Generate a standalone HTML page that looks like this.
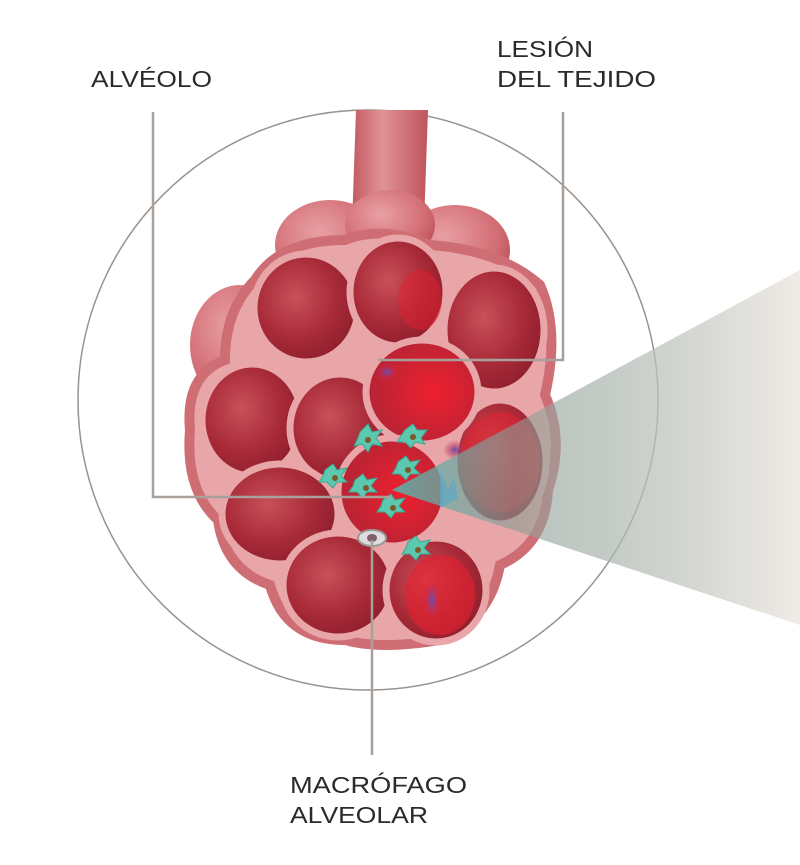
<!DOCTYPE html>
<html><head><meta charset="utf-8"><style>
html,body{margin:0;padding:0;background:#fff;}
svg{display:block;}
text{font-family:"Liberation Sans",sans-serif;font-size:23px;fill:#2a2a2a;}
</style></head><body>
<svg width="800" height="865" viewBox="0 0 800 865" xmlns="http://www.w3.org/2000/svg">
<defs>
<radialGradient id="cell" cx="0.4" cy="0.4" r="0.65">
<stop offset="0" stop-color="#c9505a"/><stop offset="0.6" stop-color="#a82a38"/><stop offset="1" stop-color="#8e1e2c"/>
</radialGradient>
<radialGradient id="lump" cx="0.4" cy="0.35" r="0.7">
<stop offset="0" stop-color="#e8a0a4"/><stop offset="0.7" stop-color="#d26d74"/><stop offset="1" stop-color="#b9505a"/>
</radialGradient>
<radialGradient id="red" cx="0.6" cy="0.5" r="0.6">
<stop offset="0" stop-color="#ee2030"/><stop offset="1" stop-color="#b32434"/>
</radialGradient>
<radialGradient id="blue" cx="0.5" cy="0.5" r="0.5">
<stop offset="0" stop-color="#6a4fb0"/><stop offset="1" stop-color="#e82030" stop-opacity="0"/>
</radialGradient>
<linearGradient id="beam" x1="0" y1="0" x2="1" y2="0">
<stop offset="0" stop-color="#4fb8b0" stop-opacity="0.85"/><stop offset="0.3" stop-color="#8a9c94" stop-opacity="0.6"/><stop offset="1" stop-color="#efe9e4" stop-opacity="0.9"/>
</linearGradient>
<linearGradient id="stem" x1="0" y1="0" x2="1" y2="0">
<stop offset="0" stop-color="#c45a62"/><stop offset="0.4" stop-color="#e09298"/><stop offset="1" stop-color="#c0545c"/>
</linearGradient>
</defs>
<circle cx="368" cy="400" r="290" fill="none" stroke="#9a928c" stroke-width="1.5"/>
<path d="M356 110 L428 110 L424 225 L352 225 Z" fill="url(#stem)"/>
<ellipse cx="330" cy="245" rx="55" ry="45" fill="url(#lump)"/>
<ellipse cx="455" cy="250" rx="55" ry="45" fill="url(#lump)"/>
<ellipse cx="390" cy="225" rx="45" ry="35" fill="url(#lump)"/>
<ellipse cx="240" cy="345" rx="50" ry="60" fill="url(#lump)"/>
<path d="M255 280 Q280 240 345 240 Q380 225 430 245 Q500 250 540 285 Q560 330 545 395 Q565 440 548 490 Q545 545 500 565 Q490 620 440 640 Q380 650 345 640 Q285 640 270 585 Q225 570 218 520 Q185 490 190 430 Q185 375 225 360 Q225 310 255 280 Z" fill="#e8a6a8" stroke="#cf6d74" stroke-width="10"/>
<g fill="url(#cell)" stroke="#e8a6a8" stroke-width="7">
<ellipse cx="306" cy="308" rx="52" ry="54"/>
<ellipse cx="398" cy="292" rx="48" ry="54"/>
<ellipse cx="494" cy="330" rx="50" ry="62"/>
<ellipse cx="252" cy="420" rx="50" ry="56"/>
<ellipse cx="340" cy="428" rx="50" ry="54"/>
<ellipse cx="500" cy="462" rx="46" ry="62"/>
<ellipse cx="280" cy="514" rx="58" ry="50"/>
<ellipse cx="338" cy="585" rx="55" ry="52"/>
<ellipse cx="436" cy="590" rx="50" ry="52"/>
</g>
<ellipse cx="422" cy="392" rx="56" ry="52" fill="url(#red)" stroke="#e8a6a8" stroke-width="7"/>
<ellipse cx="392" cy="492" rx="54" ry="54" fill="url(#red)" stroke="#e8a6a8" stroke-width="7"/>
<ellipse cx="500" cy="462" rx="40" ry="50" fill="#e8202e" opacity="0.5"/>
<ellipse cx="440" cy="595" rx="35" ry="40" fill="#e8202e" opacity="0.6"/>
<ellipse cx="432" cy="600" rx="9" ry="22" fill="url(#blue)"/>
<ellipse cx="387" cy="372" rx="12" ry="9" fill="url(#blue)"/>
<ellipse cx="455" cy="450" rx="12" ry="10" fill="url(#blue)"/>
<ellipse cx="420" cy="300" rx="22" ry="30" fill="#e8202e" opacity="0.45"/>
<path d="M392 490 L800 270 L800 625 Z" fill="url(#beam)"/>
<g fill="#5cc8b0" stroke="#3aa890" stroke-width="1">
<path d="M360 432 l8 -8 l4 8 l10 -2 l-6 8 l6 8 l-10 -2 l-4 8 l-6 -8 l-8 2 l4 -8 z"/>
<path d="M405 430 l8 -6 l4 6 l10 0 l-6 8 l4 6 l-10 -2 l-4 6 l-6 -6 l-8 0 l4 -6 z"/>
<path d="M325 470 l8 -6 l4 6 l10 -2 l-6 8 l6 6 l-10 0 l-4 6 l-6 -6 l-8 0 l4 -6 z"/>
<path d="M355 480 l8 -6 l4 6 l10 -2 l-6 8 l6 6 l-10 0 l-4 6 l-6 -6 l-8 0 l4 -6 z"/>
<path d="M398 462 l8 -6 l4 6 l10 -2 l-6 8 l6 6 l-10 0 l-4 6 l-6 -6 l-8 0 l4 -6 z"/>
<path d="M383 500 l8 -6 l4 6 l10 -2 l-6 8 l6 6 l-10 0 l-4 6 l-6 -6 l-8 0 l4 -6 z"/>
<path d="M408 542 l8 -6 l4 6 l10 -2 l-6 8 l6 6 l-10 0 l-4 6 l-6 -6 l-8 0 l4 -6 z"/>
</g>
<g fill="#7a5a2a">
<circle cx="368" cy="440" r="3"/><circle cx="413" cy="437" r="3"/><circle cx="335" cy="478" r="3"/><circle cx="366" cy="488" r="3"/><circle cx="408" cy="470" r="3"/><circle cx="393" cy="508" r="3"/><circle cx="418" cy="550" r="3"/>
</g>
<path d="M440 470 l8 20 l6 -14 l4 22 l-18 10 z" fill="#5fa8c8" opacity="0.7"/>
<ellipse cx="372" cy="538" rx="14" ry="8" fill="#ddd" stroke="#999" stroke-width="2"/>
<ellipse cx="372" cy="538" rx="5" ry="4" fill="#806070"/>
<g fill="none" stroke="#a8a09a" stroke-width="2.5">
<path d="M153 112 V497 H392"/>
<path d="M563 112 V360 H378"/>
<path d="M372 540 V755"/>
</g>
<text x="91" y="87" textLength="121" lengthAdjust="spacingAndGlyphs">ALVÉOLO</text>
<text x="497" y="57" textLength="96" lengthAdjust="spacingAndGlyphs">LESIÓN</text>
<text x="497" y="87" textLength="159" lengthAdjust="spacingAndGlyphs">DEL TEJIDO</text>
<text x="290" y="793" textLength="177" lengthAdjust="spacingAndGlyphs">MACRÓFAGO</text>
<text x="290" y="823" textLength="138" lengthAdjust="spacingAndGlyphs">ALVEOLAR</text>
</svg>
</body></html>
